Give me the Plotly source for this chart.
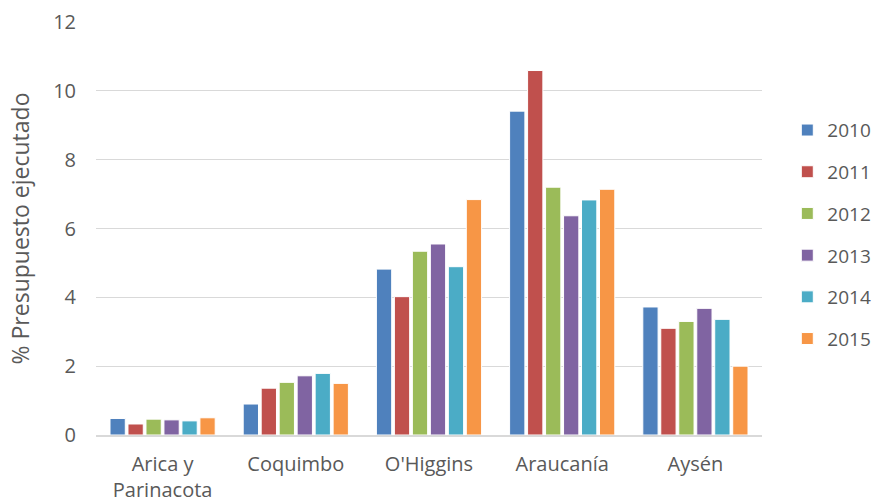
import plotly.graph_objects as go

regions = ["Arica y<br>Parinacota", "Coquimbo", "O'Higgins", "Araucanía", "Aysén"]
years = ["2010", "2011", "2012", "2013", "2014", "2015"]

v2010 = [0.48, 0.90, 4.82, 9.41, 3.72]
v2011 = [0.32, 1.36, 4.02, 10.59, 3.10]
v2012 = [0.46, 1.53, 5.34, 7.20, 3.30]
v2013 = [0.44, 1.72, 5.55, 6.37, 3.68]
v2014 = [0.41, 1.79, 4.89, 6.83, 3.36]
v2015 = [0.50, 1.50, 6.84, 7.14, 2.00]

series = [v2010, v2011, v2012, v2013, v2014, v2015]
colors = ["#4F81BD", "#C0504D", "#9BBB59", "#8064A2", "#4BACC6", "#F79646"]

font_family = "'Open Sans', Lato, sans-serif"
text_color = "#595959"

fig = go.Figure()
for name, vals, col in zip(years, series, colors):
    fig.add_trace(go.Bar(
        x=regions, y=vals, name=name, legendgroup=name,
        marker=dict(color=col, line=dict(color="white", width=1)),
    ))

fig.update_layout(
    width=878, height=504,
    margin=dict(l=96, r=116, t=22, b=69, autoexpand=False),
    paper_bgcolor="white", plot_bgcolor="white",
    barmode="group", bargap=0.19, bargroupgap=0.15,
    font=dict(family=font_family, size=20, color=text_color),
    legend=dict(
        x=1.038, xanchor="left", y=0.485, yanchor="middle",
        font=dict(size=19, color=text_color),
        tracegroupgap=14, itemwidth=30,
    ),
    yaxis=dict(
        range=[0, 12], dtick=2, showgrid=True, gridcolor="#D9D9D9",
        gridwidth=1, zeroline=False, showline=False, automargin=False,
        ticks="", ticklabelstandoff=19,
        tickfont=dict(size=20, color=text_color),
        title=dict(text="% Presupuesto ejecutado", standoff=17,
                   font=dict(size=23, color=text_color)),
    ),
    xaxis=dict(
        showline=True, linecolor="#D9D9D9", linewidth=1.5, automargin=False,
        ticks="", ticklabelstandoff=10,
        tickfont=dict(size=20, color=text_color),
        showgrid=False,
    ),
)

fig.write_html("out.html")
